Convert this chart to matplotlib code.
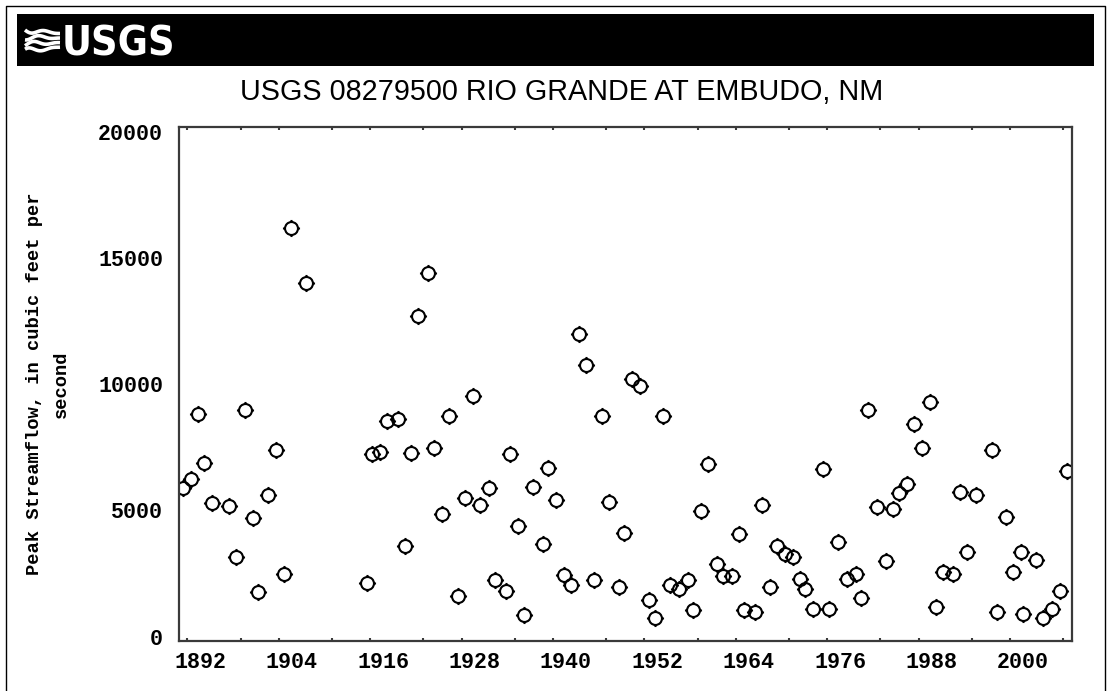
import numpy as np
import matplotlib
matplotlib.use("Agg")
import matplotlib.pyplot as plt
from matplotlib.path import Path
from matplotlib.patches import Rectangle
from matplotlib.transforms import ScaledTranslation

# ---------------- data (peak date as decimal year, peak flow in cfs) ----------------
years = [1891.5, 1892.55, 1893.35, 1894.25, 1895.3, 1897.5, 1898.4, 1899.6, 1900.6, 1901.3,
         1902.55, 1903.65, 1904.65, 1905.6, 1907.6, 1915.6, 1916.2, 1917.3, 1918.25, 1919.65,
         1920.6, 1921.35, 1922.3, 1923.55, 1924.4, 1925.4, 1926.4, 1927.6, 1928.4, 1929.45,
         1930.4, 1931.65, 1932.4, 1933.9, 1934.35, 1935.4, 1936.2, 1937.4, 1938.7, 1939.4,
         1940.4, 1941.45, 1942.35, 1943.4, 1944.35, 1945.35, 1946.4, 1947.4, 1948.65, 1949.3,
         1950.35, 1951.4, 1952.65, 1953.4, 1954.4, 1955.35, 1956.6, 1957.7, 1958.4, 1959.45,
         1960.4, 1961.55, 1962.35, 1963.45, 1964.45, 1965.1, 1966.5, 1967.5, 1968.5, 1969.45,
         1970.45, 1971.45, 1972.45, 1973.1, 1974.1, 1975.4, 1976.25, 1977.45, 1978.65, 1979.75,
         1980.5, 1981.4, 1982.5, 1983.7, 1984.7, 1985.45, 1986.45, 1987.45, 1988.5, 1989.55,
         1990.25, 1991.25, 1992.55, 1993.5, 1994.3, 1995.6, 1997.6, 1998.35, 1999.45, 2000.45,
         2001.5, 2001.75, 2003.4, 2004.3, 2005.45, 2006.55, 2007.45]
peaks = [5880, 6230, 8820, 6880, 5280, 5170, 3150, 8990, 4700, 1750,
         5610, 7390, 2500, 16170, 13990, 2120, 7220, 7330, 8560, 8610,
         3600, 7260, 12710, 14390, 7470, 4860, 8750, 1620, 5480, 9540,
         5230, 5880, 2250, 1790, 7220, 4400, 840, 5940, 3660, 6700,
         5410, 2440, 2060, 11990, 10760, 2260, 8750, 5340, 1980, 4100,
         10190, 9920, 1440, 730, 8750, 2060, 1870, 2260, 1040, 4970,
         6850, 2860, 2410, 2410, 4050, 1040, 970, 5230, 1980, 3600,
         3260, 3150, 2300, 1870, 1100, 6640, 1100, 3740, 2300, 2500,
         1550, 8990, 5130, 2980, 5060, 5710, 6040, 8440, 7490, 9290,
         1160, 2570, 2500, 5740, 3350, 5630, 7390, 970, 4750, 2570,
         3350, 910, 3030, 730, 1100, 1820, 6560]

x_ticks = [1892, 1904, 1916, 1928, 1940, 1952, 1964, 1976, 1988, 2000]
x_minor = [1899, 1911, 1923, 1935, 1947, 1959, 1971, 1983, 1995, 2007]
y_ticks = [0, 5000, 10000, 15000, 20000]
title = "USGS 08279500 RIO GRANDE AT EMBUDO, NM"
ylabel_lines = ["Peak Streamflow, in cubic feet per", "second"]

# ---------------- figure ----------------
W, H = 1111, 691
fig = plt.figure(figsize=(W / 100, H / 100), dpi=100)
fig.patch.set_facecolor("white")

bg = fig.add_axes([0, 0, 1, 1])
bg.set_xlim(0, W)
bg.set_ylim(H, 0)
bg.axis("off")

# outer frame
bg.plot([6, 6, 1105, 1105], [H, 6, 6, H], color="black", lw=1.0)
# black banner
bg.add_patch(Rectangle((17, 14), 1077, 52, facecolor="black", edgecolor="none"))
# wave logo
t = np.linspace(0, 1, 60)
for k, y0 in enumerate([30, 37, 44, 51]):
    xs = 25 + 35 * t
    ys = y0 + 3.0 * np.sin(2 * np.pi * (t * 1.3 + 0.2 * k)) * (1 - t) + (40 - y0) * t * 0.35
    bg.plot(xs, ys, color="white", lw=2.6, solid_capstyle="butt")
bg.text(62, 55, "USGS", color="white", fontsize=29.5, fontweight="bold",
        family="DejaVu Sans", fontstretch="condensed", ha="left", va="baseline")

# title
bg.text(561.5, 100, title, ha="center", va="baseline", fontsize=20.7,
        family="Liberation Sans", color="black")

# y label (two rotated lines)
mono = dict(family=["Liberation Mono", "DejaVu Sans Mono"], fontweight="bold")
bg.text(35, 384, ylabel_lines[0], rotation=90, ha="center", va="center",
        fontsize=13.5, color="black", **mono)
bg.text(61, 384, ylabel_lines[1], rotation=90, ha="center", va="center",
        fontsize=13.5, color="black", **mono)

# ---------------- plot axes ----------------
L, R, T, B = 179.3, 1071.7, 126.7, 640.7
ax = fig.add_axes([L / W, 1 - B / H, (R - L) / W, (B - T) / H])
ax.set_facecolor("white")
ax.set_xlim(1890.95, 2008.1)
ax.set_ylim(-160, 20200)

# circle marker with four small outward spikes
circ = Path.unit_circle()
s = 1.32
spikes = Path([(0, 1), (0, s), (0, -1), (0, -s), (1, 0), (s, 0), (-1, 0), (-s, 0)],
              [Path.MOVETO, Path.LINETO] * 4)
marker = Path.make_compound_path(circ, spikes)
ax.plot(years, peaks, linestyle="none", marker=marker, markersize=12.3,
        markerfacecolor="none", markeredgecolor="black", markeredgewidth=1.5)

for sp in ax.spines.values():
    sp.set_linewidth(1.6)
    sp.set_color("#3a3a3a")

ax.set_xticks(x_ticks)
ax.set_xticks(x_minor, minor=True)
ax.set_xticklabels([])
ax.tick_params(axis="x", which="both", direction="in", length=2.5, width=1.5,
               color="#3a3a3a", top=True, bottom=True)
ax.set_yticks(y_ticks)
ax.set_yticklabels([str(v) for v in y_ticks], fontsize=15.6, **mono)
ax.tick_params(axis="y", which="both", length=0, pad=11.7)

# x tick labels (drawn slightly right of the ticks, as in the original)
offs = ScaledTranslation(0.13, -0.223, fig.dpi_scale_trans)
for yr in x_ticks:
    ax.text(yr, 0, str(yr), transform=ax.get_xaxis_transform() + offs,
            ha="center", va="center", fontsize=15.6, color="black",
            clip_on=False, **mono)

fig.savefig("out.png", dpi=100)
